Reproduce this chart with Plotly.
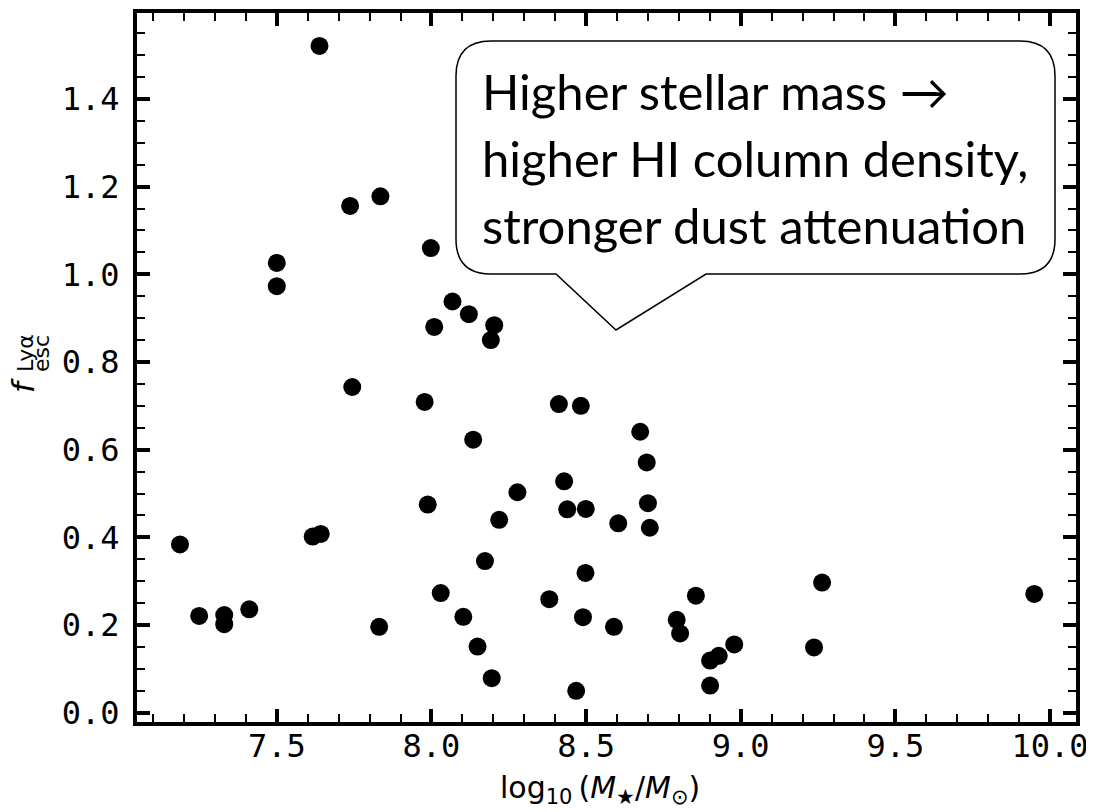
import plotly.graph_objects as go

# ---- data ----
log_mstar = [7.187, 7.249, 7.330, 7.330, 7.411, 7.500, 7.500, 7.616, 7.642, 7.638,
             7.737, 7.744, 7.835, 7.831, 7.978, 7.988, 7.998, 8.009, 8.030, 8.068,
             8.103, 8.121, 8.135, 8.149, 8.173, 8.192, 8.195, 8.203, 8.219, 8.278,
             8.381, 8.412, 8.429, 8.439, 8.468, 8.483, 8.490, 8.498, 8.499, 8.590,
             8.604, 8.675, 8.696, 8.700, 8.706, 8.793, 8.804, 8.855, 8.901, 8.901,
             8.929, 8.979, 9.237, 9.263, 9.949]
f_esc_lya = [0.384, 0.221, 0.223, 0.202, 0.236, 1.026, 0.973, 0.402, 0.408, 1.521,
             1.156, 0.743, 1.178, 0.196, 0.709, 0.475, 1.060, 0.880, 0.273, 0.938,
             0.219, 0.909, 0.623, 0.151, 0.346, 0.850, 0.079, 0.884, 0.440, 0.503,
             0.259, 0.704, 0.528, 0.464, 0.050, 0.700, 0.218, 0.319, 0.465, 0.196,
             0.432, 0.641, 0.571, 0.478, 0.422, 0.212, 0.181, 0.267, 0.119, 0.062,
             0.130, 0.156, 0.149, 0.297, 0.271]

x_range = [7.048, 10.084]
y_range = [-0.021, 1.596]
x_ticks = [7.5, 8.0, 8.5, 9.0, 9.5, 10.0]
y_ticks = [0.0, 0.2, 0.4, 0.6, 0.8, 1.0, 1.2, 1.4]

note_lines = ["Higher stellar mass \u2192",
              "higher HI column density,",
              "stronger dust attenuation"]

# ---- layout geometry (page pixels; the page body has an 8 px margin) ----
PAGE_W, PAGE_H, OFF = 1094, 812, 8
W, H = PAGE_W - OFF, PAGE_H - OFF
L, R, T, B = 137, 1076, 13, 722


def px(xp):
    return (xp - L) / (R - L)


def py(yp):
    return (B - yp) / (B - T)


fig = go.Figure(go.Scatter(
    x=log_mstar, y=f_esc_lya, mode="markers",
    marker=dict(color="black", size=18, line=dict(width=0)),
    showlegend=False, hoverinfo="x+y"))

mono = dict(family="DejaVu Sans Mono", size=32, color="black")
axis_common = dict(
    showgrid=False, zeroline=False, showline=True, linewidth=4, linecolor="black",
    mirror="allticks", ticks="inside", ticklen=13, tickwidth=3.5, tickcolor="black",
    tickfont=mono, tickformat=".1f", automargin=False,
)
fig.update_xaxes(range=x_range, tickvals=x_ticks, ticklabelstandoff=-7,
                 minor=dict(ticks="inside", ticklen=8, tickwidth=2, tickcolor="black",
                            dtick=0.1, tick0=7.0, showgrid=False),
                 **axis_common)
fig.update_yaxes(range=y_range, tickvals=y_ticks, ticklabelstandoff=7,
                 minor=dict(ticks="inside", ticklen=8, tickwidth=2, tickcolor="black",
                            dtick=0.05, tick0=0.0, showgrid=False),
                 **axis_common)

# ---- speech bubble ----
x0, x1, y0, y1, r = 456, 1055, 41, 274, 35
pl, tipx, tipy, pr = 556, 616, 330, 706


def P(a, b):
    return f"{px(a):.5f},{py(b):.5f}"


path = (f"M {P(x0 + r, y0)} L {P(x1 - r, y0)} Q {P(x1, y0)} {P(x1, y0 + r)} "
        f"L {P(x1, y1 - r)} Q {P(x1, y1)} {P(x1 - r, y1)} L {P(pr, y1)} "
        f"L {P(tipx, tipy)} L {P(pl, y1)} L {P(x0 + r, y1)} "
        f"Q {P(x0, y1)} {P(x0, y1 - r)} L {P(x0, y0 + r)} Q {P(x0, y0)} {P(x0 + r, y0)} Z")
fig.add_shape(type="path", path=path, xref="paper", yref="paper",
              fillcolor="white", line=dict(color="black", width=1.5), layer="above")

line_y = [91, 158, 225]
for txt, yy in zip(note_lines, line_y):
    fig.add_annotation(text=txt, x=px(480), y=py(yy), xref="paper", yref="paper",
                       xanchor="left", yanchor="middle", showarrow=False,
                       font=dict(family="Lato", size=49, color="black"))

# ---- axis labels ----
fig.add_annotation(text="log<sub>10</sub>\u2009(<i>M</i><sub>\u2605</sub>/<i>M</i><sub>\u2299</sub>)",
                   x=px(600), y=py(789), xref="paper", yref="paper",
                   xanchor="center", yanchor="middle", showarrow=False,
                   font=dict(family="DejaVu Sans", size=30, color="black"))
fig.add_annotation(text="<i>f</i>", x=px(23), y=py(386), xref="paper", yref="paper",
                   xanchor="center", yanchor="middle", showarrow=False, textangle=-90,
                   font=dict(family="DejaVu Sans", size=31, color="black"))
fig.add_annotation(text="Ly\u03b1", x=px(25), y=py(353), xref="paper", yref="paper",
                   xanchor="center", yanchor="middle", showarrow=False, textangle=-90,
                   font=dict(family="DejaVu Sans", size=22, color="black"))
fig.add_annotation(text="esc", x=px(41), y=py(354), xref="paper", yref="paper",
                   xanchor="center", yanchor="middle", showarrow=False, textangle=-90,
                   font=dict(family="DejaVu Sans", size=22, color="black"))

fig.update_layout(width=W, height=H,
                  margin=dict(l=L - OFF, r=PAGE_W - R, t=T - OFF, b=PAGE_H - B),
                  plot_bgcolor="white", paper_bgcolor="white")

fig.write_html("out.html")
